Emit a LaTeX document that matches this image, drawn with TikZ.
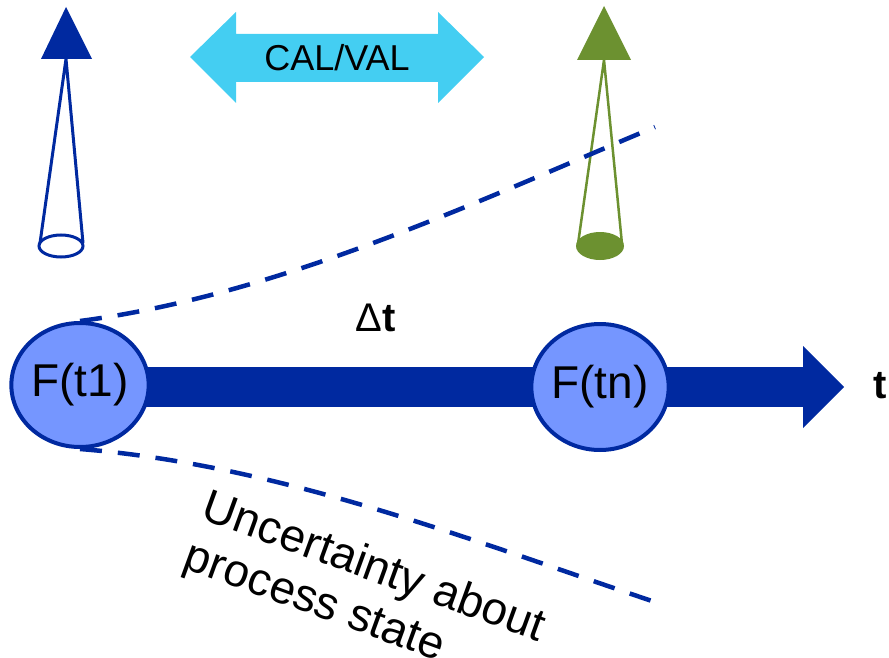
\documentclass[tikz,border=0pt]{standalone}
\usepackage{fontspec}
\setmainfont{Liberation Sans}
\usetikzlibrary{shapes.geometric}
\definecolor{axisblue}{RGB}{0,41,160}
\definecolor{stateblue}{RGB}{117,150,255}
\definecolor{calcyan}{RGB}{68,206,242}
\definecolor{refgreen}{RGB}{108,145,48}
\newcommand{\fs}[1]{\fontsize{#1}{#1}\selectfont}

\begin{document}
\begin{tikzpicture}[x=1pt,y=-1pt,
    state/.style={ellipse,draw=axisblue,line width=4pt,fill=stateblue,inner sep=0pt,
        minimum width=134pt,minimum height=124pt,font=\fs{46}},
    bound/.style={draw=axisblue,line width=4.5pt,dash pattern=on 22pt off 16pt}]
            \useasboundingbox (0,0) rectangle (889,658);

            \fill[axisblue] (66,7)--(92,59)--(41,59)--cycle;
            \draw[axisblue,line width=3pt] (40,243)--(66,59)--(83,243);
            \draw[axisblue,line width=3pt,fill=white] (61,246) ellipse (22 and 11);

            \fill[refgreen] (604,6)--(631,60)--(577,60)--cycle;
            \draw[refgreen,line width=2.5pt] (578,244)--(604,60)--(622,244);
            \fill[refgreen] (600,246) ellipse (24 and 14);

            \fill[calcyan] (190,57)--(236,12)--(236,34)--(438,34)--(438,12)--(484,57)
                --(438,103)--(438,82)--(236,82)--(236,103)--cycle;
            \node[font=\fs{36}] (calval) at (337,58) {CAL/VAL};

            \coordinate (headbase) at (803,387);
            \fill[axisblue] (140,367) rectangle (headbase |- 0,407);
            \fill[axisblue] (803,346)--(844,387)--(803,428)--cycle;
            \node[state] (t1) at (80,385) {F(t1)};
            \node[state,minimum width=132pt,minimum height=126pt] (tn) at (600,387) {F(tn)};

            \node[font=\fs{40}] (dt) at (376,318) {Δ\textbf{t}};
            \node[font=\fs{40}\bfseries] (tlabel) at (880,386) {t};

            \coordinate (upend) at (655,127);
            \coordinate (lowend) at (652,601);
            \draw[bound] (t1.north) .. controls (280,295) and (480,200) .. (upend);
            \draw[bound] (t1.south) .. controls (280,465) and (470,540) .. (lowend);

            \node[rotate=-20,anchor=north west,align=left,inner sep=0pt,
                font=\fontsize{46}{52}\selectfont] (unc) at (211,487)
                {Uncertainty about\\process state};
        \end{tikzpicture}
\end{document}
